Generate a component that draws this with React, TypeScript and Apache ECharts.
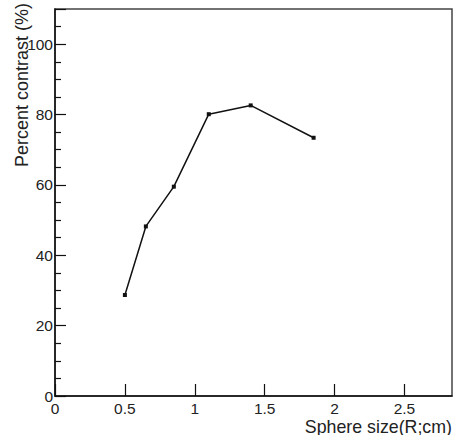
import React, { useEffect, useRef } from "react";
import * as echarts from "echarts";

const sphereSize = [0.5, 0.65, 0.85, 1.1, 1.4, 1.85];
const contrast = [28.7, 48.2, 59.5, 80.1, 82.6, 73.4];
const xTitle = "Sphere size(R;cm)";
const yTitle = "Percent contrast (%)";

const FONT = "'Liberation Sans', Arial, sans-serif";

export default function App() {
  const ref = useRef<HTMLDivElement>(null);
  useEffect(() => {
    if (!ref.current) return;
    const chart = echarts.init(ref.current, undefined, { renderer: "svg" });
    chart.setOption({
      animation: false,
      backgroundColor: "#ffffff",
      grid: {
        left: 55,
        right: 4,
        top: 9,
        bottom: 39,
        show: true,
        borderColor: "#444",
        borderWidth: 1.5,
        backgroundColor: "transparent",
      },
      xAxis: {
        type: "value",
        min: 0,
        max: 2.84,
        interval: 0.5,
        axisLine: { show: true, onZero: false, lineStyle: { color: "#111", width: 1.5 } },
        axisTick: { show: true, inside: true, length: 12, lineStyle: { color: "#111", width: 1.2 } },
        minorTick: { show: false },
        splitLine: { show: false },
        axisLabel: {
          show: true,
          margin: 4,
          fontSize: 15.5,
          color: "#222",
          fontFamily: FONT,
          showMaxLabel: false,
        },
      },
      yAxis: {
        type: "value",
        min: 0,
        max: 110,
        interval: 20,
        axisLine: { show: true, onZero: false, lineStyle: { color: "#111", width: 1.5 } },
        axisTick: { show: true, inside: true, length: 11, lineStyle: { color: "#111", width: 1.2 } },
        minorTick: { show: true, splitNumber: 4, length: 6, lineStyle: { color: "#111", width: 1.2 } },
        splitLine: { show: false },
        axisLabel: {
          show: true,
          margin: 2,
          fontSize: 15.5,
          color: "#222",
          fontFamily: FONT,
          showMaxLabel: false,
        },
      },
      graphic: [
        {
          type: "text",
          x: 22,
          y: 3,
          rotation: Math.PI / 2,
          style: {
            text: yTitle,
            align: "right",
            verticalAlign: "middle",
            fontSize: 18,
            fontFamily: FONT,
            fill: "#222",
          },
        },
        {
          type: "text",
          x: 452,
          y: 426.5,
          style: {
            text: xTitle,
            align: "right",
            verticalAlign: "middle",
            fontSize: 17.8,
            fontFamily: FONT,
            fill: "#222",
          },
        },
      ],
      series: [
        {
          type: "line",
          data: sphereSize.map((x, i) => [x, contrast[i]]),
          symbol: "rect",
          symbolSize: 4,
          showSymbol: true,
          lineStyle: { color: "#111", width: 1.5 },
          itemStyle: { color: "#111" },
        },
      ],
    });
    return () => chart.dispose();
  }, []);
  return <div ref={ref} style={{ width: 456, height: 435, position: "absolute", left: 0, top: 0 }} />;
}
